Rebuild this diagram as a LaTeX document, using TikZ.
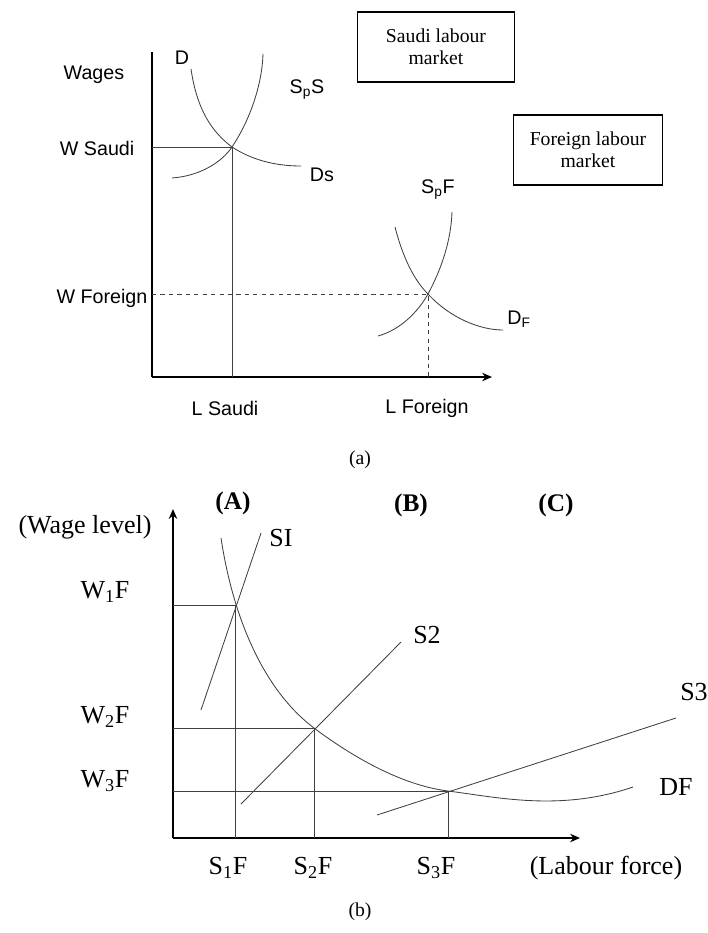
\documentclass[tikz,border=0pt]{standalone}
\usepackage{fontspec}
\setmainfont{Liberation Serif}
\setsansfont{Liberation Sans}
\usetikzlibrary{arrows.meta}

\begin{document}
\begin{tikzpicture}[x=0.025cm,y=-0.025cm,>={Stealth[length=7pt,width=6pt]},
  lab/.style={font=\fontsize{14}{16}\sffamily,inner sep=1pt},
  tlab/.style={font=\fontsize{18.5}{21}\selectfont,inner sep=1pt},
  hd/.style={font=\fontsize{18}{20}\selectfont\bfseries,inner sep=1pt},
  capt/.style={font=\fontsize{14}{16}\selectfont,inner sep=1pt},
  mkt/.style={draw,line width=1.2pt,minimum height=1.75cm,align=center,font=\fontsize{14}{16}\selectfont},
  axis/.style={line width=1.1pt},
  bax/.style={line width=1.3pt},
  crv/.style={draw=black!75,line width=0.6pt}]
\useasboundingbox (0,0) rectangle (708,933);
% (a) two markets
\coordinate (oa) at (152,377);
\coordinate (ya) at (152,52);
\coordinate (xa) at (492,377);
\coordinate (es) at (232,147);
\coordinate (ef) at (428,294);
\draw[axis] (ya) -- (oa);
\draw[axis,->] (oa) -- (xa);
\draw[crv] (191,69) .. controls (197,110) and (212,132) .. (es) .. controls (255,162) and (280,166) .. (301,166);
\draw[crv] (172,178) .. controls (200,176) and (222,162) .. (es) .. controls (250,120) and (262,85) .. (263,54);
\draw[crv] (395,227) .. controls (403,258) and (414,280) .. (ef) .. controls (450,318) and (480,330) .. (503,330);
\draw[crv] (378,336) .. controls (400,330) and (418,312) .. (ef) .. controls (442,268) and (451,240) .. (452,212);
\draw[crv] (es -| oa) -- (es) -- (es |- oa);
\draw[crv,dashed] (ef -| oa) -- (ef) -- (ef |- oa);
\node[lab,anchor=west] (wages) at (62,75) {Wages};
\node[lab,anchor=east] (wsaudi) at (136,148) {W Saudi};
\node[lab,anchor=east] (wforeign) at (149,298) {W Foreign};
\node[lab] (dlab) at (182,58) {D};
\node[lab] (sps) at (307,90) {S\textsubscript{p}S};
\node[lab] (ds) at (322,175) {Ds};
\node[lab] (spf) at (438,190) {S\textsubscript{p}F};
\node[lab] (dflab) at (519,319) {D\textsubscript{F}};
\node[lab] (lsaudi) at (225,408) {L Saudi};
\node[lab] (lforeign) at (427,408) {L Foreign};
\node[mkt,minimum width=3.93cm] (saudi) at (436,47) {Saudi labour\\market};
\node[mkt,minimum width=3.73cm] (foreign) at (588,150) {Foreign labour\\market};
\node[capt] (capa) at (360,460) {(a)};
% (b) wage level and labour force
\coordinate (ob) at (173,838);
\coordinate (yb) at (173,509);
\coordinate (xb) at (580,838);
\coordinate (e1) at (235,605);
\coordinate (e2) at (314,728);
\coordinate (e3) at (448,791);
\draw[bax,->] (ob) -- (yb);
\draw[bax,->] (ob) -- (xb);
\draw[crv] (221,538) .. controls (235,630) and (270,695) .. (e2) .. controls (350,755) and (400,785) .. (e3) .. controls (496,797) and (560,812) .. (633,787);
\coordinate (s1a) at (201,710);
\coordinate (s1b) at (261,533);
\coordinate (s2a) at (241,804);
\coordinate (s2b) at (401,642);
\coordinate (s3a) at (377,815);
\coordinate (s3b) at (676,718);
\draw[crv] (s1a) -- (s1b);
\draw[crv] (s2a) -- (s2b);
\draw[crv] (s3a) -- (s3b);
\draw[crv] (e1 -| ob) -- (e1) -- (e1 |- ob);
\draw[crv] (e2 -| ob) -- (e2) -- (e2 |- ob);
\draw[crv] (e3 -| ob) -- (e3) -- (e3 |- ob);
\node[tlab] (wlevel) at (85,527) {(Wage level)};
\node[tlab] (w1) at (105,592) {W\textsubscript{1}F};
\node[tlab] (w2) at (105,717) {W\textsubscript{2}F};
\node[tlab] (w3) at (105,781) {W\textsubscript{3}F};
\node[hd] (pa) at (233,503) {(A)};
\node[hd] (pb) at (411,505) {(B)};
\node[hd] (pc) at (556,505) {(C)};
\node[tlab] (si) at (281,538) {SI};
\node[tlab] (stwo) at (427,635) {S2};
\node[tlab] (sthree) at (694,692) {S3};
\node[tlab] (df) at (676,787) {DF};
\node[tlab] (f1) at (228,868) {S\textsubscript{1}F};
\node[tlab] (f2) at (313,868) {S\textsubscript{2}F};
\node[tlab] (f3) at (436,868) {S\textsubscript{3}F};
\node[tlab] (lforce) at (606,868) {(Labour force)};
\node[capt] (capb) at (360,912) {(b)};
\end{tikzpicture}
\end{document}
